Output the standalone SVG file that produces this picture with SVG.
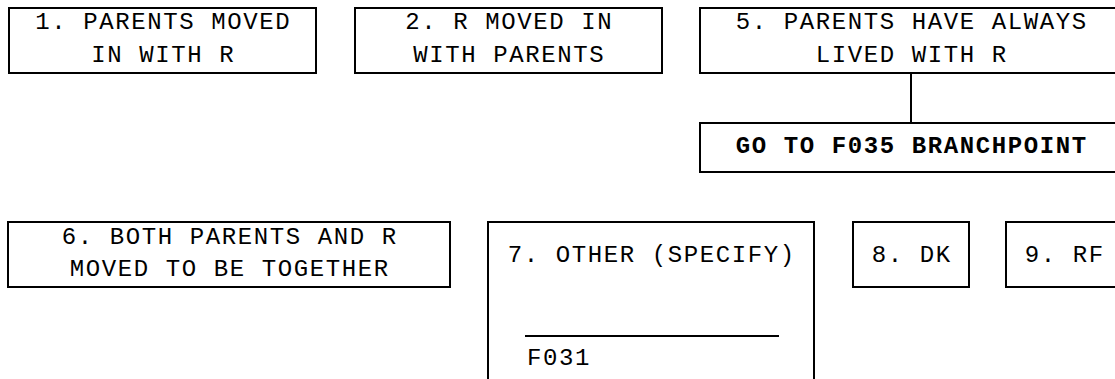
<svg xmlns="http://www.w3.org/2000/svg" width="1115" height="379" viewBox="0 0 1115 379">
<style>
  .box { fill: #fff; stroke: #000; stroke-width: 2; }
  .t { font-family: "Liberation Mono", "Courier New", monospace; font-size: 24px; letter-spacing: 1.6px; fill: #000; text-anchor: middle; }
  .b { font-weight: bold; }
  .s { text-anchor: start; }
  .conn { stroke: #000; stroke-width: 2; fill: none; }
</style>
<rect x="0" y="0" width="1115" height="379" fill="#fff"/>
<g id="connectors">
  <line class="conn" x1="911" y1="73" x2="911" y2="123"/>
</g>
<g id="node1">
  <rect class="box" x="9" y="8" width="307" height="65"/>
  <text class="t" x="163.3" y="29">1. PARENTS MOVED</text>
  <text class="t" x="163.3" y="61.5">IN WITH R</text>
</g>
<g id="node2">
  <rect class="box" x="355" y="8" width="307" height="65"/>
  <text class="t" x="509.3" y="29">2. R MOVED IN</text>
  <text class="t" x="509.3" y="61.5">WITH PARENTS</text>
</g>
<g id="node5">
  <rect class="box" x="700" y="8" width="422" height="65"/>
  <text class="t" x="911.8" y="29">5. PARENTS HAVE ALWAYS</text>
  <text class="t" x="911.8" y="61.5">LIVED WITH R</text>
</g>
<g id="goto">
  <rect class="box" x="700" y="123" width="422" height="49"/>
  <text class="t b" x="911.8" y="153">GO TO F035 BRANCHPOINT</text>
</g>
<g id="node6">
  <rect class="box" x="8" y="222" width="442" height="65"/>
  <text class="t" x="229.8" y="243.5">6. BOTH PARENTS AND R</text>
  <text class="t" x="229.8" y="275.5">MOVED TO BE TOGETHER</text>
</g>
<g id="node7">
  <rect class="box" x="488" y="222" width="326" height="180"/>
  <text class="t" x="651.8" y="262">7. OTHER (SPECIFY)</text>
  <line class="conn" x1="525" y1="336" x2="779" y2="336"/>
  <text class="t s" x="527" y="365">F031</text>
</g>
<g id="node8">
  <rect class="box" x="853" y="222" width="116" height="65"/>
  <text class="t" x="911.8" y="262">8. DK</text>
</g>
<g id="node9">
  <rect class="box" x="1006" y="222" width="116" height="65"/>
  <text class="t" x="1064.8" y="262">9. RF</text>
</g>
</svg>
